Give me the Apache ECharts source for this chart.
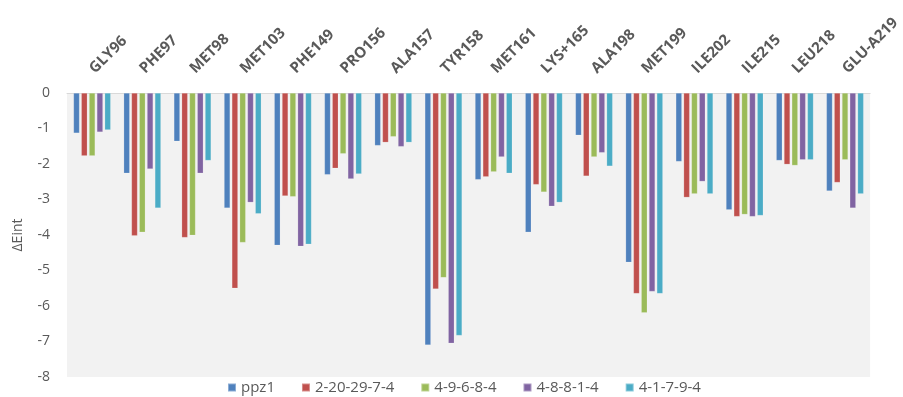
<!DOCTYPE html>
<html><head><meta charset="utf-8">
<script src="https://cdn.jsdelivr.net/npm/echarts@6/dist/echarts.min.js"></script>
<style>html,body{margin:0;padding:0;background:#fff}#c{width:903px;height:397px}</style>
</head><body><div id="c"></div>
<script>
const categories = ['GLY96','PHE97','MET98','MET103','PHE149','PRO156','ALA157','TYR158','MET161','LYS+165','ALA198','MET199','ILE202','ILE215','LEU218','GLU-A219'];
const seriesNames = ['ppz1','2-20-29-7-4','4-9-6-8-4','4-8-8-1-4','4-1-7-9-4'];
const ppz1      = [-1.13,-2.26,-1.36,-3.24,-4.29,-2.30,-1.48,-7.10,-2.44,-3.92,-1.19,-4.77,-1.93,-3.29,-1.90,-2.76];
const s2_20_29  = [-1.77,-4.02,-4.07,-5.50,-2.90,-2.12,-1.39,-5.52,-2.36,-2.58,-2.34,-5.65,-2.94,-3.48,-2.01,-2.52];
const s4_9_6    = [-1.77,-3.92,-4.01,-4.21,-2.92,-1.71,-1.23,-5.20,-2.22,-2.79,-1.80,-6.19,-2.84,-3.42,-2.04,-1.88];
const s4_8_8    = [-1.10,-2.14,-2.26,-3.08,-4.32,-2.42,-1.51,-7.05,-1.80,-3.19,-1.68,-5.59,-2.49,-3.48,-1.88,-3.24];
const s4_1_7    = [-1.04,-3.24,-1.90,-3.40,-4.26,-2.28,-1.39,-6.83,-2.26,-3.08,-2.06,-5.65,-2.84,-3.45,-1.88,-2.84];
const yTicks = [0,-1,-2,-3,-4,-5,-6,-7,-8];
const colors = ['#4f81bd','#c0504d','#9bbb59','#8064a2','#4bacc6'];
const values = [ppz1, s2_20_29, s4_9_6, s4_8_8, s4_1_7];

const chart = echarts.init(document.getElementById('c'));
chart.setOption({
  animation:false,
  color: colors,
  grid:{left:67,right:31,top:93,bottom:20,show:true,backgroundColor:'#f2f2f2',borderWidth:0,containLabel:false},
  legend:{bottom:-3,left:222,itemWidth:8,itemHeight:8,itemGap:26,icon:'rect',
    textStyle:{color:'#595959',fontSize:15,fontFamily:'Open Sans'}},
  xAxis:{type:'category',position:'top',data:categories,
    axisLine:{lineStyle:{color:'#d9d9d9',width:1}},axisTick:{show:false},
    axisLabel:{rotate:45,margin:22,color:'#595959',fontWeight:'bold',fontSize:15,fontFamily:'Open Sans',interval:0}},
  yAxis:{type:'value',min:-8,max:0,interval:1,
    name:'ΔEint',nameLocation:'middle',nameGap:42,nameRotate:90,
    nameTextStyle:{color:'#595959',fontSize:14,fontFamily:'Open Sans'},
    axisLine:{show:false},axisTick:{show:false},splitLine:{show:false},
    axisLabel:{color:'#595959',fontSize:14,fontFamily:'Open Sans',margin:17,
      formatter:v=>yTicks.includes(v)?String(v):''}},
  series: seriesNames.map((n,i)=>({name:n,type:'bar',data:values[i],barWidth:6,barGap:'30%',
    itemStyle:{color:colors[i],borderColor:'rgba(255,255,255,0.35)',borderWidth:0.5}}))
});
</script></body></html>
